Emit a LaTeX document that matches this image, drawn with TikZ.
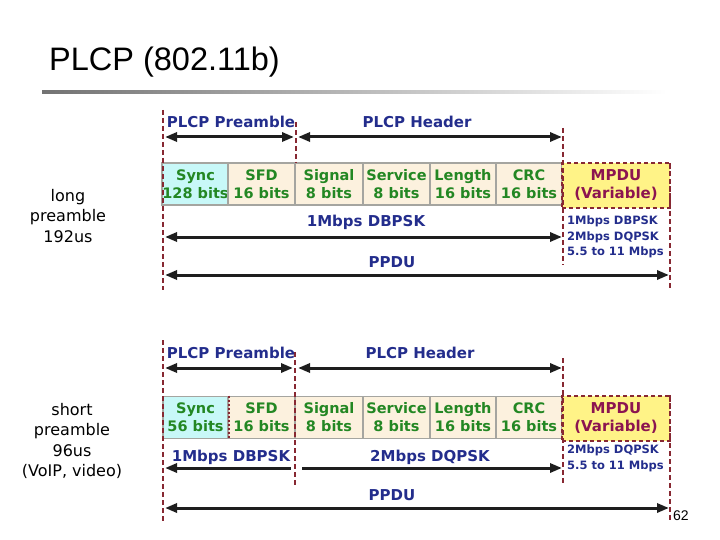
\documentclass[tikz,border=0pt]{standalone}
\usepackage{fontspec}
\setmainfont{Liberation Sans}
\newfontfamily\dv{DejaVu Sans}
\usetikzlibrary{arrows.meta}
\definecolor{navy}{RGB}{35,45,140}
\definecolor{fgreen}{RGB}{35,135,35}
\definecolor{beige}{RGB}{252,241,222}
\definecolor{synccyan}{RGB}{200,248,248}
\definecolor{mpduyellow}{RGB}{255,243,135}
\definecolor{mpdutext}{RGB}{140,20,80}
\definecolor{maroon}{RGB}{135,40,50}
\definecolor{boxgray}{RGB}{165,165,160}
\definecolor{arrowblack}{RGB}{30,30,30}
\newcommand\fieldfont{\dv\bfseries\fontsize{14.5}{18}\selectfont}
\newcommand\lblfont{\dv\bfseries\fontsize{15}{18}\selectfont}
\newcommand\ratefont{\dv\bfseries\fontsize{11.5}{15.5}\selectfont}
\newcommand\sidefont{\dv\fontsize{16}{20.5}\selectfont}
\begin{document}
\begin{tikzpicture}[x=1pt,y=-1pt,
  >={Triangle[length=12pt,width=9pt]},
  field/.style={draw=boxgray, line width=1.8pt, fill=beige, inner sep=0pt,
    minimum height=42pt, align=center, font=\fieldfont, text=fgreen},
  mpdu/.style={draw=maroon, line width=2.2pt, dash pattern=on 4pt off 3pt,
    fill=mpduyellow, inner sep=0pt, minimum width=108pt, minimum height=45pt,
    align=center, font=\lblfont, text=mpdutext},
  lbl/.style={font=\lblfont, text=navy, inner sep=0pt},
  rate/.style={font=\ratefont, text=navy, inner sep=0pt, align=left, anchor=north west},
  side/.style={font=\sidefont, align=center, inner sep=0pt},
  arr/.style={draw=arrowblack, line width=3pt},
  dline/.style={draw=maroon, line width=2.3pt, dash pattern=on 5pt off 3pt}]
\useasboundingbox (0,0) rectangle (720,540);

% title
\node[anchor=base west, inner sep=0pt, font=\fontsize{32.5}{38}\selectfont] (title) at (49,71) {PLCP (802.11b)};
\fill[left color=black!55, right color=white] (42,90.5) rectangle (667,93.5);

% side labels
\node[side] (longlbl) at (68,216) {long\\preamble\\192us};
\node[side] (shortlbl) at (72,441) {short\\preamble\\96us\\(VoIP, video)};

% ================= top diagram =================
\node[field, fill=synccyan, minimum width=65pt] (sync1) at (195.5,184) {Sync\\128 bits};
\node[field, minimum width=67pt] (sfd1) at (261.5,184) {SFD\\16 bits};
\node[field, minimum width=68pt] (sig1) at (329,184) {Signal\\8 bits};
\node[field, minimum width=67pt] (ser1) at (396.5,184) {Service\\8 bits};
\node[field, minimum width=66pt] (len1) at (463,184) {Length\\16 bits};
\node[field, minimum width=66pt] (crc1) at (529,184) {CRC\\16 bits};
\node[mpdu] (mpdu1) at (616,185.5) {MPDU\\(Variable)};

\draw[dline] (163,110) coordinate (l1t) -- (163,290) coordinate (l1b);
\draw[dline] (296,122) coordinate (p1t) -- (296,163) coordinate (p1b);
\draw[dline] (563,128) coordinate (m1t) -- (563,265) coordinate (m1b);
\draw[dline] (670,163) coordinate (r1t) -- (670,290) coordinate (r1b);

\node[lbl] (pre1) at (231,122) {PLCP Preamble};
\node[lbl] (hdr1) at (417,122) {PLCP Header};
\coordinate (a1a) at (165,137); \coordinate (a1b) at (294,137);
\coordinate (a1c) at (298,137); \coordinate (a1d) at (562,137);
\draw[arr,<->] (a1a) -- (a1b);
\draw[arr,<->] (a1c) -- (a1d);

\node[lbl] (db1) at (366,222) {1Mbps DBPSK};
\coordinate (b1a) at (165,237); \coordinate (b1b) at (562,237);
\draw[arr,<->] (b1a) -- (b1b);
\node[rate] (rates1) at (567,216) {1Mbps DBPSK\\2Mbps DQPSK\\5.5 to 11 Mbps};

\node[lbl] (ppdu1) at (392,262) {PPDU};
\coordinate (c1a) at (165,275); \coordinate (c1b) at (669,275);
\draw[arr,<->] (c1a) -- (c1b);

% ================= bottom diagram =================
\node[field, fill=synccyan, minimum width=65pt] (sync2) at (195.5,417.5) {Sync\\56 bits};
\node[field, minimum width=67pt] (sfd2) at (261.5,417.5) {SFD\\16 bits};
\node[field, minimum width=68pt] (sig2) at (329,417.5) {Signal\\8 bits};
\node[field, minimum width=67pt] (ser2) at (396.5,417.5) {Service\\8 bits};
\node[field, minimum width=66pt] (len2) at (463,417.5) {Length\\16 bits};
\node[field, minimum width=66pt] (crc2) at (529,417.5) {CRC\\16 bits};
\node[mpdu] (mpdu2) at (616,418.5) {MPDU\\(Variable)};
\draw[dline, line width=1.6pt, dash pattern=on 2pt off 2pt] (sync2.north east) -- (sync2.south east);

\draw[dline] (163,340) coordinate (l2t) -- (163,522) coordinate (l2b);
\draw[dline] (295,352) coordinate (p2t) -- (295,485) coordinate (p2b);
\draw[dline] (563,358) coordinate (m2t) -- (563,485) coordinate (m2b);
\draw[dline] (670,395) coordinate (r2t) -- (670,522) coordinate (r2b);

\node[lbl] (pre2) at (231,353) {PLCP Preamble};
\node[lbl] (hdr2) at (420,353) {PLCP Header};
\coordinate (a2a) at (165,368); \coordinate (a2b) at (293,368);
\coordinate (a2c) at (298,368); \coordinate (a2d) at (562,368);
\draw[arr,<->] (a2a) -- (a2b);
\draw[arr,<->] (a2c) -- (a2d);

\node[lbl] (db2) at (231,457) {1Mbps DBPSK};
\node[lbl] (dq2) at (430,457) {2Mbps DQPSK};
\coordinate (b2a) at (165,468); \coordinate (b2b) at (291,468);
\coordinate (b2c) at (302,468); \coordinate (b2d) at (562,468);
\draw[arr,<-] (b2a) -- (b2b);
\draw[arr,->] (b2c) -- (b2d);
\node[rate] (rates2) at (567,445) {2Mbps DQPSK\\5.5 to 11 Mbps};

\node[lbl] (ppdu2) at (392,495) {PPDU};
\coordinate (c2a) at (165,508); \coordinate (c2b) at (669,508);
\draw[arr,<->] (c2a) -- (c2b);

% page number
\node[anchor=base west, inner sep=0pt, font=\fontsize{14}{16}\selectfont] (pnum) at (673,520) {62};
\end{tikzpicture}
\end{document}
